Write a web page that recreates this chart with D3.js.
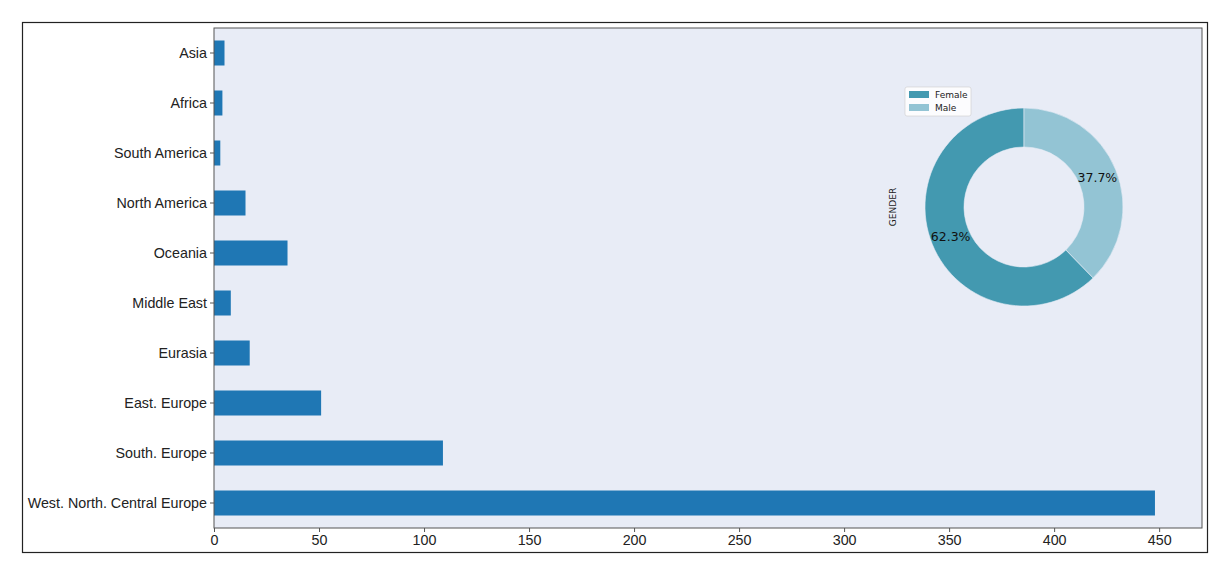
<!DOCTYPE html>
<html><head><meta charset="utf-8">
<script src="https://cdn.jsdelivr.net/npm/d3@7"></script>
<style>body{margin:0;background:#fff}svg{display:block;font-family:"DejaVu Sans",sans-serif}</style>
</head><body><svg id="c" width="1230" height="576"></svg>
<script>
const regions = ["Asia","Africa","South America","North America","Oceania","Middle East","Eurasia","East. Europe","South. Europe","West. North. Central Europe"];
const counts = [5,4,3,15,35,8,17,51,109,448];
const xTicks = [0,50,100,150,200,250,300,350,400,450];
const genders = ["Female","Male"];
const genderShare = [62.3,37.7];
const genderColors = ["#4399b0","#93c4d4"];

const svg = d3.select("#c");
svg.append("rect").attr("x",22.5).attr("y",22.5).attr("width",1185).attr("height",530)
  .attr("fill","#fff").attr("stroke","#222").attr("stroke-width",1.2);

const L=214, R=1202, T=28, B=528;
svg.append("rect").attr("x",L).attr("y",T).attr("width",R-L).attr("height",B-T).attr("fill","#e8ecf6");

const x = d3.scaleLinear().domain([0, d3.max(counts)*1.05]).range([L,R]);
const y = d3.scaleBand().domain(regions).range([T,B]).paddingInner(0.5).paddingOuter(0.25);

svg.append("g").selectAll("rect").data(regions).join("rect")
  .attr("x",x(0)).attr("y",d=>y(d)).attr("height",y.bandwidth())
  .attr("width",(d,i)=>x(counts[i])-x(0)).attr("fill","#1f77b4");

const ax = svg.append("g").attr("transform",`translate(0,${B})`)
  .call(d3.axisBottom(x).tickValues(xTicks).tickSize(4).tickPadding(3));
ax.select(".domain").remove();
ax.selectAll("text").attr("font-size",14.3).attr("fill","#222");
ax.selectAll("line").attr("stroke","#555");
const ay = svg.append("g").attr("transform",`translate(${L},0)`)
  .call(d3.axisLeft(y).tickSize(4).tickPadding(3));
ay.select(".domain").remove();
ay.selectAll("text").attr("font-size",14.3).attr("fill","#222").attr("dy","0.38em");
ay.selectAll("line").attr("stroke","#555");
svg.append("rect").attr("x",L).attr("y",T).attr("width",R-L).attr("height",B-T)
  .attr("fill","none").attr("stroke","#555").attr("stroke-width",1);

// donut (matplotlib startangle 90, counterclockwise)
const cx=1024, cy=207, ro=99, ri=60;
const fem = genderShare[0]/100*2*Math.PI;
const spans = [[2*Math.PI-fem, 2*Math.PI],[0, 2*Math.PI-fem]];
const arc = d3.arc().innerRadius(ri).outerRadius(ro);
const g = svg.append("g").attr("transform",`translate(${cx},${cy})`);
genders.forEach((gname,i)=>{
  const a = {startAngle:spans[i][0], endAngle:spans[i][1]};
  g.append("path").attr("d",arc(a)).attr("fill",genderColors[i]).attr("stroke","#e8ecf6").attr("stroke-width",0.6);
  const mid=(a.startAngle+a.endAngle)/2, d=0.8*ro;
  g.append("text").attr("x",d*Math.sin(mid)).attr("y",-d*Math.cos(mid)).attr("dy","0.35em")
    .attr("text-anchor","middle").attr("font-size",12.5).attr("fill","#111").text(genderShare[i].toFixed(1)+"%");
});
svg.append("text").attr("transform",`translate(896,${cy}) rotate(-90)`).attr("text-anchor","middle")
  .attr("font-size",9).attr("fill","#222").text("GENDER");

const lg = svg.append("g").attr("transform","translate(905,87)");
lg.append("rect").attr("width",66).attr("height",29).attr("rx",2).attr("fill","#fff").attr("fill-opacity",0.85).attr("stroke","#ccc").attr("stroke-width",0.6);
genders.forEach((gname,i)=>{
  lg.append("rect").attr("x",4).attr("y",4+i*13).attr("width",20).attr("height",7).attr("fill",genderColors[i]);
  lg.append("text").attr("x",30).attr("y",11+i*13).attr("font-size",9).attr("fill","#222").text(gname);
});
</script></body></html>
